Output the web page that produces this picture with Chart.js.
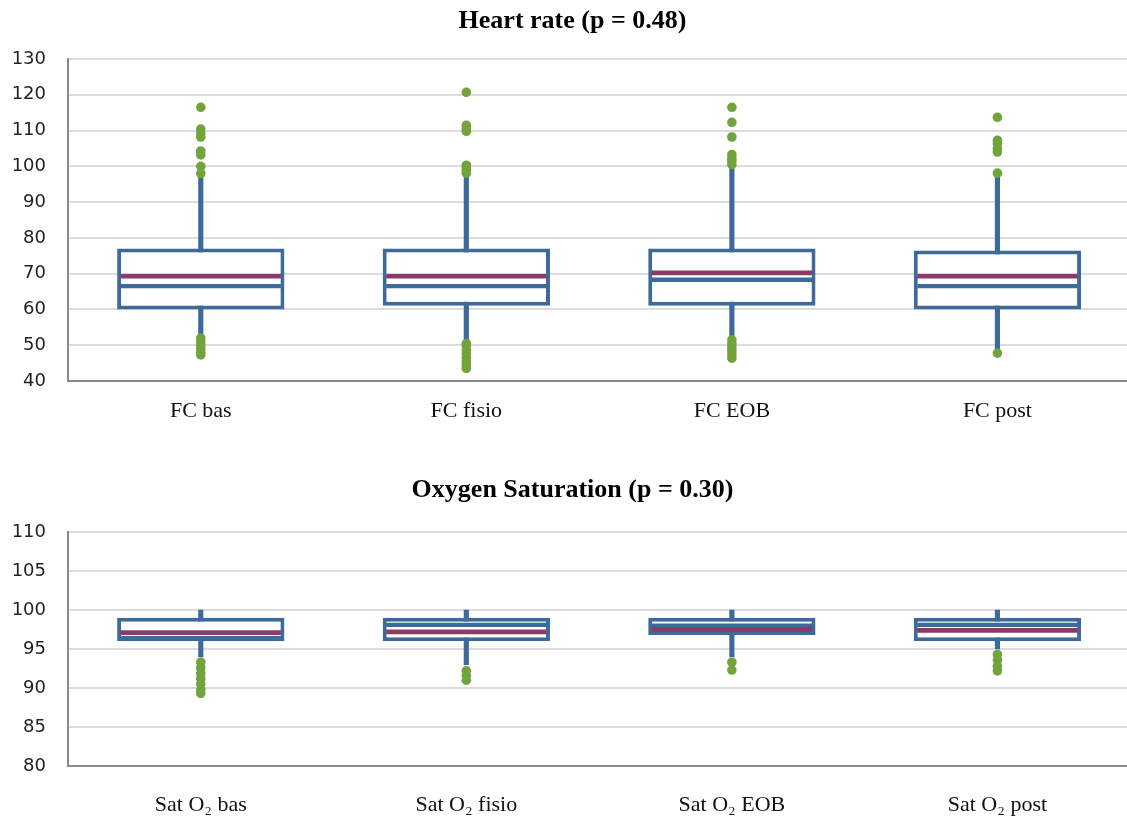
<!DOCTYPE html>
<html>
<head>
<meta charset="utf-8">
<script src="https://cdn.jsdelivr.net/npm/chart.js@4/dist/chart.umd.min.js"></script>
<style>
  html, body { margin: 0; padding: 0; background: #fff; overflow: hidden; }
  body { width: 1127px; height: 817px; position: relative; }
  .wrap { position: absolute; left: 0; width: 1135px; }
  #w1 { top: 0; height: 440px; }
  #w2 { top: 462px; height: 355px; }
</style>
</head>
<body>
<div class="wrap" id="w1"><canvas id="c1"></canvas></div>
<div class="wrap" id="w2"><canvas id="c2"></canvas></div>
<script>
// ---------- Heart rate data ----------
const hrTitle = 'Heart rate (p = 0.48)';
const hrCategories = ['FC bas', 'FC fisio', 'FC EOB', 'FC post'];
const hrTicks = [40, 50, 60, 70, 80, 90, 100, 110, 120, 130];
const hrQ1 = [60, 61, 61, 60];
const hrQ3 = [77, 77, 77, 76.5];
const hrMedian = [66.5, 66.5, 68.3, 66.5];
const hrMean = [69.3, 69.3, 70.2, 69.3];
const hrWhiskerLow = [52, 51, 52, 48];
const hrWhiskerHigh = [97.5, 97.5, 100, 98];
const hrOutliers = [
  [116.5, 110.4, 109.3, 108.2, 104.3, 103.2, 100, 98, 52, 51, 50, 49, 48, 47.3],
  [120.7, 111.5, 110.5, 109.8, 100.3, 99.5, 98.8, 98.1, 50.5, 49.8, 48.7, 47.7, 46.6, 45.5, 44.5, 43.5],
  [116.5, 112.3, 108.2, 103.3, 102.3, 101.5, 100.5, 51.5, 50.5, 49.5, 48.5, 47.5, 46.4],
  [113.7, 107.3, 106.3, 105, 104, 98.1, 47.8]
];

// ---------- Oxygen saturation data ----------
const satTitle = 'Oxygen Saturation (p = 0.30)';
const satCategories = ['Sat O\u2082 bas', 'Sat O\u2082 fisio', 'Sat O\u2082 EOB', 'Sat O\u2082 post'];
const satTicks = [80, 85, 90, 95, 100, 105, 110];
const satQ1 = [96, 96, 96.8, 96];
const satQ3 = [99, 99, 99, 99];
const satMedian = [96.4, 98.1, 98, 98.1];
const satMean = [97.1, 97.2, 97.5, 97.4];
const satWhiskerLow = [94, 93, 94, 95];
const satWhiskerHigh = [100, 100, 100, 100];
const satOutliers = [
  [93.3, 92.6, 91.9, 91.2, 90.5, 89.8, 89.3],
  [92.2, 91.6, 91],
  [93.3, 92.3],
  [94.3, 93.6, 92.8, 92.2]
];

// ---------- styles ----------
const BLUE = '#3d6a9a';
const MAGENTA = '#8e3a68';
const GREEN = '#72a33c';
const BOX_PCT = 0.63;

function halfBox(ctx) {
  const xs = ctx.chart.scales.x;
  return xs.width / ctx.chart.data.labels.length * BOX_PCT / 2 - 3.5;
}

function makeChart(canvasId, opts) {
  const cats = opts.categories;
  const outlierPts = [];
  opts.outliers.forEach((arr, i) => arr.forEach(v => outlierPts.push({ x: cats[i], y: v })));
  return new Chart(document.getElementById(canvasId), {
    type: 'bar',
    data: {
      labels: cats,
      datasets: [
        {
          label: 'whisker', order: 5, grouped: false,
          data: cats.map((c, i) => [opts.wLow[i], opts.wHigh[i]]),
          backgroundColor: BLUE, borderWidth: 0, barThickness: 4.5
        },
        {
          label: 'box', order: 4, grouped: false,
          data: cats.map((c, i) => [opts.q1[i], opts.q3[i]]),
          backgroundColor: '#ffffff', borderColor: BLUE, borderWidth: 4,
          borderSkipped: false, barPercentage: BOX_PCT, categoryPercentage: 1
        },
        {
          type: 'line', label: 'median', order: 3, showLine: false,
          data: opts.median, pointStyle: 'line', rotation: 0,
          pointRadius: halfBox, pointHoverRadius: halfBox,
          pointBorderWidth: 4.3, pointHoverBorderWidth: 4.3,
          pointBorderColor: BLUE, pointBackgroundColor: BLUE
        },
        {
          type: 'line', label: 'mean', order: 2, showLine: false,
          data: opts.mean, pointStyle: 'line', rotation: 0,
          pointRadius: halfBox, pointHoverRadius: halfBox,
          pointBorderWidth: 4.8, pointHoverBorderWidth: 4.8,
          pointBorderColor: MAGENTA, pointBackgroundColor: MAGENTA
        },
        {
          type: 'line', label: 'outliers', order: 1, showLine: false,
          data: outlierPts, pointStyle: 'circle',
          pointRadius: 4.8, pointHoverRadius: 4.8, pointBorderWidth: 0,
          pointBackgroundColor: GREEN, pointBorderColor: GREEN
        }
      ]
    },
    options: {
      responsive: true, maintainAspectRatio: false, animation: false,
      events: [],
      layout: { padding: { left: 10, right: 0, top: 0, bottom: 0 } },
      plugins: {
        legend: { display: false },
        tooltip: { enabled: false },
        title: {
          display: true, text: opts.title, color: '#000',
          font: { family: 'Liberation Serif', size: 26, weight: 'bold' },
          padding: opts.titlePad
        }
      },
      scales: {
        x: {
          offset: true,
          grid: { display: false, drawTicks: false },
          border: { display: true, color: '#8a8a8a', width: 2 },
          ticks: { color: '#111', padding: opts.xPad, font: { family: 'Liberation Serif', size: 22 } },
          afterFit: (axis) => { axis.height = opts.xAxisH; }
        },
        y: {
          min: opts.ticks[0], max: opts.ticks[opts.ticks.length - 1],
          afterBuildTicks: (axis) => { axis.ticks = opts.ticks.map(v => ({ value: v })); },
          afterFit: (axis) => { axis.width = 58; },
          grid: { color: '#dcdcdc', lineWidth: 2, drawTicks: false },
          border: { display: true, color: '#8a8a8a', width: 2 },
          ticks: { color: '#222', padding: 22, font: { family: 'DejaVu Sans', size: 18 } }
        }
      }
    }
  });
}

makeChart('c1', {
  title: hrTitle, categories: hrCategories, ticks: hrTicks,
  q1: hrQ1, q3: hrQ3, median: hrMedian, mean: hrMean,
  wLow: hrWhiskerLow, wHigh: hrWhiskerHigh, outliers: hrOutliers,
  titlePad: { top: 5.4, bottom: 22.4 }, xPad: 16.8, xAxisH: 59
});

makeChart('c2', {
  title: satTitle, categories: satCategories, ticks: satTicks,
  q1: satQ1, q3: satQ3, median: satMedian, mean: satMean,
  wLow: satWhiskerLow, wHigh: satWhiskerHigh, outliers: satOutliers,
  titlePad: { top: 12.4, bottom: 26.4 }, xPad: 25.8, xAxisH: 51
});
</script>
</body>
</html>
